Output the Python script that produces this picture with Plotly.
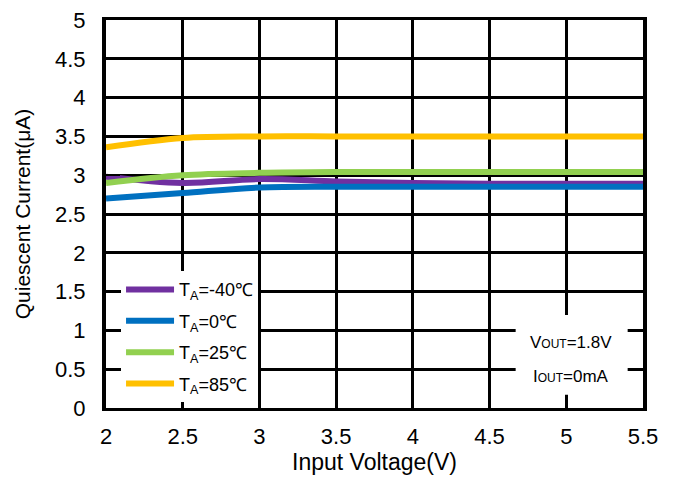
import plotly.graph_objects as go

x_vals = [2, 2.5, 3, 3.5, 4, 4.5, 5, 5.5]
iq_m40 = [2.98, 2.90, 2.95, 2.92, 2.90, 2.89, 2.89, 2.89]
iq_0 = [2.70, 2.77, 2.84, 2.85, 2.85, 2.85, 2.85, 2.85]
iq_25 = [2.90, 3.00, 3.03, 3.04, 3.04, 3.04, 3.04, 3.04]
iq_85 = [3.36, 3.48, 3.50, 3.50, 3.50, 3.50, 3.50, 3.50]

series_names = ["T<sub>A</sub>=-40℃", "T<sub>A</sub>=0℃", "T<sub>A</sub>=25℃", "T<sub>A</sub>=85℃"]
series_vals = [iq_m40, iq_0, iq_25, iq_85]
colors = ["#7030A0", "#0070C0", "#92D050", "#FFC000"]

x_ticks = [2, 2.5, 3, 3.5, 4, 4.5, 5, 5.5]
y_ticks = [0, 0.5, 1, 1.5, 2, 2.5, 3, 3.5, 4, 4.5, 5]

FONT = "Liberation Sans, Arial, sans-serif"

fig = go.Figure()
for i, (name, vals, c) in enumerate(zip(series_names, series_vals, colors)):
    fig.add_trace(go.Scatter(
        x=x_vals, y=vals, name=name, mode="lines",
        line=dict(color=c, width=6, shape="spline", smoothing=1.0),
        legendgroup=f"g{i}",
    ))

fig.add_shape(type="rect", xref="x", yref="y", x0=4.67, x1=5.40, y0=0.17, y1=1.2,
              fillcolor="white", line=dict(width=0), layer="above")
fig.add_annotation(x=5.03, y=0.85, xref="x", yref="y", showarrow=False,
                   text="V<span style='font-size:12px'>OUT</span>=1.8V",
                   font=dict(family=FONT, size=17, color="black"))
fig.add_annotation(x=5.03, y=0.41, xref="x", yref="y", showarrow=False,
                   text="I<span style='font-size:12px'>OUT</span>=0mA",
                   font=dict(family=FONT, size=17, color="black"))

fig.update_layout(
    width=669, height=472,
    margin=dict(l=98, r=34, t=12, b=72, autoexpand=False),
    paper_bgcolor="white", plot_bgcolor="white",
    font=dict(family=FONT, size=22, color="black"),
    showlegend=True,
    legend=dict(x=0.028, y=0.015, xanchor="left", yanchor="bottom",
                bgcolor="white", borderwidth=0,
                font=dict(family=FONT, size=18, color="black"),
                tracegroupgap=5, itemwidth=48),
    xaxis=dict(range=[2, 5.5], tickvals=x_ticks, ticktext=[str(v) for v in x_ticks],
               showgrid=True, gridcolor="black", gridwidth=2.5,
               showline=True, linecolor="black", linewidth=3, mirror=True,
               ticks="inside", ticklen=10, tickwidth=2, tickcolor="black",
               zeroline=False, ticklabelstandoff=7, automargin=False,
               ticklabeloverflow="allow",
               title=dict(text="Input Voltage(V)", standoff=0, font=dict(size=23)),
               tickfont=dict(size=22)),
    yaxis=dict(range=[0, 5], tickvals=y_ticks, ticktext=[f"{v:g}" for v in y_ticks],
               showgrid=True, gridcolor="black", gridwidth=2.5,
               showline=True, linecolor="black", linewidth=4, mirror=True,
               ticks="inside", ticklen=14, tickwidth=2, tickcolor="black",
               zeroline=False, automargin=False, ticklabelstandoff=12,
               ticklabeloverflow="allow",
               title=dict(text="Quiescent Current(μA)", standoff=20, font=dict(size=21)),
               tickfont=dict(size=22)),
)

fig.write_html("out.html")
